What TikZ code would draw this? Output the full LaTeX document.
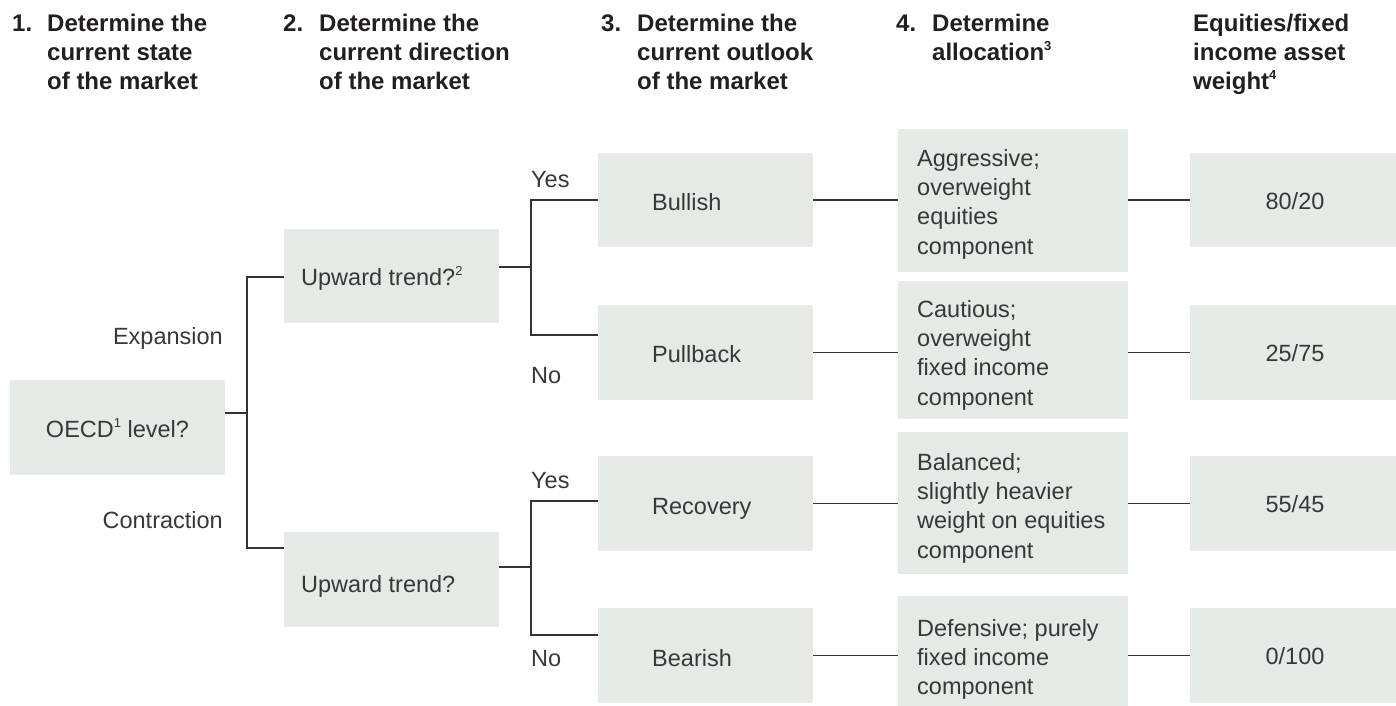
\documentclass[tikz,border=0pt]{standalone}
\usepackage{fontspec}
\setmainfont{Liberation Sans}
\definecolor{boxfill}{HTML}{E6EAE7}
\definecolor{txtc}{HTML}{383838}
\definecolor{hdc}{HTML}{231F20}
\definecolor{lnc}{HTML}{333333}
\newcommand{\mysup}[1]{\raisebox{0.42em}{\fontsize{13}{13}\selectfont #1}}
\newcommand{\tstr}{\rule{0pt}{18pt}}
\begin{document}
\begin{tikzpicture}[x=1pt,y=-1pt,
  box/.style={fill=boxfill, draw=none, inner sep=0pt},
  hd/.style={font=\fontsize{24}{29.5}\selectfont\bfseries, text=hdc, inner sep=0pt, anchor=base west},
  lbl/.style={font=\fontsize{23.5}{29.3}\selectfont, text=txtc, inner sep=0pt},
  conn/.style={draw=lnc, line width=1.3pt}]
\useasboundingbox (0,0) rectangle (1396,706);

% headers
\node[hd] (n1) at (12,31.5) {1.};
\node[hd] (h1a) at (47,31.5) {Determine the};
\node[hd] (h1b) at (47,60.5) {current state};
\node[hd] (h1c) at (47,89.5) {of the market};
\node[hd] (n2) at (283,31.5) {2.};
\node[hd] (h2a) at (319,31.5) {Determine the};
\node[hd] (h2b) at (319,60.5) {current direction};
\node[hd] (h2c) at (319,89.5) {of the market};
\node[hd] (n3) at (601,31.5) {3.};
\node[hd] (h3a) at (637,31.5) {Determine the};
\node[hd] (h3b) at (637,60.5) {current outlook};
\node[hd] (h3c) at (637,89.5) {of the market};
\node[hd] (n4) at (896,31.5) {4.};
\node[hd] (h4a) at (932,31.5) {Determine};
\node[hd] (h4b) at (932,60.5) {allocation\mysup{3}};
\node[hd] (h5a) at (1193,31.5) {Equities/fixed};
\node[hd] (h5b) at (1193,60.5) {income asset};
\node[hd] (h5c) at (1193,89.5) {weight\mysup{4}};

% boxes
\node[box, minimum width=215pt, minimum height=95pt] (oecd) at (117.5,427.5) {};
\node[box, minimum width=215pt, minimum height=94pt] (up) at (391.5,276) {};
\node[box, minimum width=215pt, minimum height=95pt] (lo) at (391.5,579.5) {};
\node[box, minimum width=215pt, minimum height=94pt] (bull) at (705.5,200) {};
\node[box, minimum width=215pt, minimum height=95pt] (pull) at (705.5,352.5) {};
\node[box, minimum width=215pt, minimum height=95pt] (reco) at (705.5,503.5) {};
\node[box, minimum width=215pt, minimum height=95pt] (bear) at (705.5,655.5) {};
\node[box, minimum width=230pt, minimum height=143pt] (agg) at (1013,200.5) {};
\node[box, minimum width=230pt, minimum height=138pt] (cau) at (1013,350) {};
\node[box, minimum width=230pt, minimum height=142pt] (bal) at (1013,503) {};
\node[box, minimum width=230pt, minimum height=110pt] (def) at (1013,651) {};
\node[box, minimum width=206pt, minimum height=94pt] (w1) at (1293,200) {};
\node[box, minimum width=206pt, minimum height=95pt] (w2) at (1293,352.5) {};
\node[box, minimum width=206pt, minimum height=95pt] (w3) at (1293,503.5) {};
\node[box, minimum width=206pt, minimum height=95pt] (w4) at (1293,655.5) {};

% box texts
\node[lbl, anchor=base] (toecd) at (117.5,437.5) {OECD\mysup{1} level?};
\node[lbl, anchor=base west] (tup) at (301,285) {Upward trend?\mysup{2}};
\node[lbl, anchor=base west] (tlo) at (301,592) {Upward trend?};
\node[lbl, anchor=base west] (tbull) at (652,210) {Bullish};
\node[lbl, anchor=base west] (tpull) at (652,362) {Pullback};
\node[lbl, anchor=base west] (treco) at (652,514) {Recovery};
\node[lbl, anchor=base west] (tbear) at (652,666) {Bearish};
\node[lbl, align=left, anchor=north west] (tagg) at (917,148) {\tstr Aggressive;\\overweight\\equities\\component};
\node[lbl, align=left, anchor=north west] (tcau) at (917,299) {\tstr Cautious;\\overweight\\fixed income\\component};
\node[lbl, align=left, anchor=north west] (tbal) at (917,452) {\tstr Balanced;\\slightly heavier\\weight on equities\\component};
\node[lbl, align=left, anchor=north west] (tdef) at (917,618) {\tstr Defensive; purely\\fixed income\\component};
\node[lbl, anchor=base] (tw1) at (1295,209) {80/20};
\node[lbl, anchor=base] (tw2) at (1295,361) {25/75};
\node[lbl, anchor=base] (tw3) at (1295,512) {55/45};
\node[lbl, anchor=base] (tw4) at (1295,664) {0/100};

% branch labels
\node[lbl, anchor=base east] (lexp) at (223,344) {Expansion};
\node[lbl, anchor=base east] (lcon) at (223,528) {Contraction};
\node[lbl, anchor=base west] (ly1) at (531,187) {Yes};
\node[lbl, anchor=base west] (ln1) at (531,383) {No};
\node[lbl, anchor=base west] (ly2) at (531,488) {Yes};
\node[lbl, anchor=base west] (ln2) at (531,666) {No};

% junction coordinates
\coordinate (j0) at (247,413);
\coordinate (t1) at (247,277);
\coordinate (t2) at (247,548);
\coordinate (u0) at (531,267);
\coordinate (u1) at (531,200);
\coordinate (u2) at (531,335);
\coordinate (l0) at (531,567);
\coordinate (l1) at (531,501);
\coordinate (l2) at (531,635);

% connectors
\draw[conn] (oecd.east |- j0) -- (j0);
\draw[conn] (up.west |- t1) -- (t1) -- (t2) -- (lo.west |- t2);
\draw[conn] (up.east |- u0) -- (u0);
\draw[conn] (bull.west |- u1) -- (u1) -- (u2) -- (pull.west |- u2);
\draw[conn] (lo.east |- l0) -- (l0);
\draw[conn] (reco.west |- l1) -- (l1) -- (l2) -- (bear.west |- l2);
\draw[conn] (bull.east) -- (bull.east -| agg.west);
\draw[conn] (pull.east) -- (pull.east -| cau.west);
\draw[conn] (reco.east) -- (reco.east -| bal.west);
\draw[conn] (bear.east) -- (bear.east -| def.west);
\draw[conn] (w1.west -| agg.east) -- (w1.west);
\draw[conn] (w2.west -| cau.east) -- (w2.west);
\draw[conn] (w3.west -| bal.east) -- (w3.west);
\draw[conn] (w4.west -| def.east) -- (w4.west);
\end{tikzpicture}
\end{document}
